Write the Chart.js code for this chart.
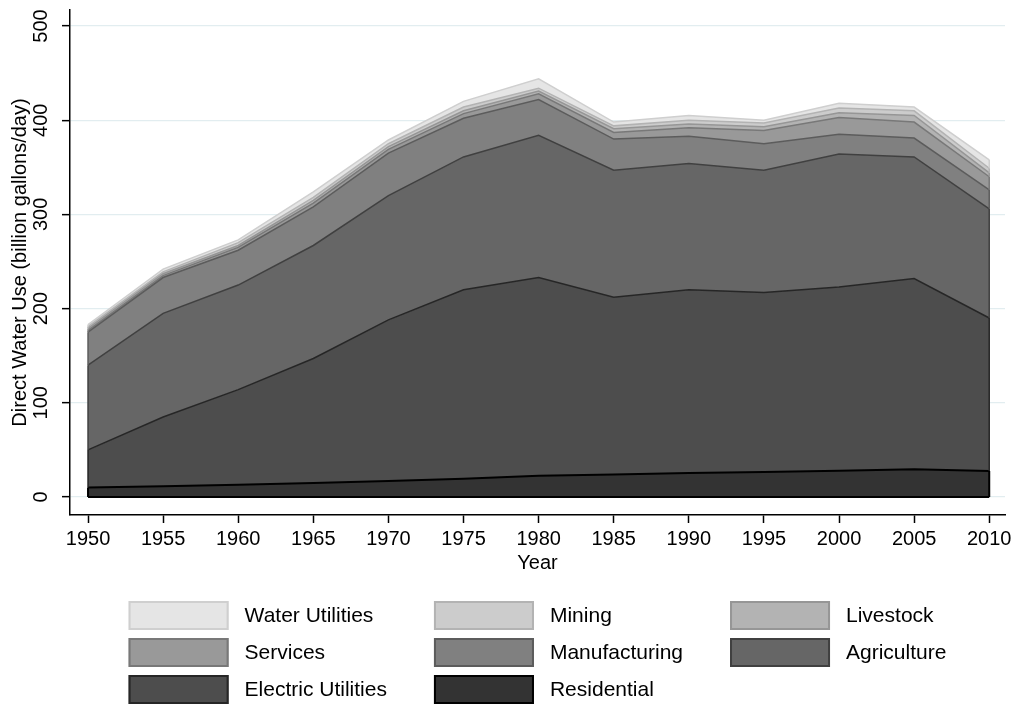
<!DOCTYPE html>
<html>
<head>
<meta charset="utf-8">
<title>Direct Water Use by Sector</title>
<script src="https://cdn.jsdelivr.net/npm/chart.js@4.4.0/dist/chart.umd.min.js"></script>
<style>
  html, body { margin: 0; padding: 0; background: #fff; }
  #wrap { width: 1018px; height: 707px; position: relative; }
</style>
</head>
<body>
<div id="wrap"><canvas id="waterChart"></canvas></div>
<script>
// Data (billion gallons/day), bottom layer first
const years = [1950, 1955, 1960, 1965, 1970, 1975, 1980, 1985, 1990, 1995, 2000, 2005, 2010];
const yTicks = [0, 100, 200, 300, 400, 500];

const residential = [10, 11.5, 13, 15, 17, 19.5, 22.5, 24, 25.5, 26.5, 28, 29.5, 27.5];
const electricUtilities = [40, 73.5, 101, 132, 171, 200.5, 210.5, 188, 194.5, 190.5, 195, 202.5, 162.5];
const agriculture = [90, 110, 111, 120, 132, 141, 151, 135, 134, 130, 141, 129, 116];
const manufacturing = [35, 38, 37, 41, 45, 41, 38, 33, 29, 28, 21, 20, 20];
const services = [2, 2, 3, 4, 4, 5, 6, 7, 9, 14, 18, 17, 14];
const livestock = [2, 2, 2, 3, 3, 3, 3, 4, 4, 4, 5, 7, 4];
const mining = [2, 2, 3, 3, 3, 4, 3, 3, 4, 4, 5, 5, 5];
const waterUtilities = [2, 3, 3, 6, 4, 6, 10, 4, 5, 3, 5, 4, 9];

const seriesNames = ['Residential', 'Electric Utilities', 'Agriculture', 'Manufacturing',
                     'Services', 'Livestock', 'Mining', 'Water Utilities'];
const seriesValues = [residential, electricUtilities, agriculture, manufacturing,
                      services, livestock, mining, waterUtilities];
const fillColors = ['#333333', '#4d4d4d', '#666666', '#808080', '#999999', '#b3b3b3', '#cccccc', '#e5e5e5'];
const lineColors = ['#000000', '#262626', '#404040', '#5c5c5c', '#787878', '#969696', '#b3b3b3', '#cfcfcf'];

const FONT = 'Arial, "Liberation Sans", Helvetica, sans-serif';

// y tick labels are drawn rotated, like the original
const rotatedYTicks = {
    id: 'rotatedYTicks',
    afterDraw(chart) {
        const ctx = chart.ctx;
        const y = chart.scales.y;
        ctx.save();
        ctx.fillStyle = '#000';
        ctx.font = '20px ' + FONT;
        ctx.textAlign = 'center';
        ctx.textBaseline = 'middle';
        yTicks.forEach(v => {
            ctx.save();
            ctx.translate(chart.chartArea.left - 29, y.getPixelForValue(v));
            ctx.rotate(-Math.PI / 2);
            ctx.fillText(String(v), 0, 0);
            ctx.restore();
        });
        ctx.restore();
    }
};

// closing edges of each area (left/right sides and the baseline)
const areaEdges = {
    id: 'areaEdges',
    afterDatasetsDraw(chart) {
        const ctx = chart.ctx;
        const base = chart.scales.y.getPixelForValue(0);
        ctx.save();
        for (let i = chart.data.datasets.length - 1; i >= 0; i--) {
            const pts = chart.getDatasetMeta(i).data;
            const prev = i > 0 ? chart.getDatasetMeta(i - 1).data : null;
            const last = pts.length - 1;
            ctx.strokeStyle = lineColors[i];
            ctx.lineWidth = i === 0 ? 2 : 1.5;
            ctx.beginPath();
            ctx.moveTo(pts[0].x, prev ? prev[0].y : base);
            ctx.lineTo(pts[0].x, pts[0].y);
            ctx.moveTo(pts[last].x, prev ? prev[last].y : base);
            ctx.lineTo(pts[last].x, pts[last].y);
            if (i === 0) {
                ctx.moveTo(pts[0].x, base);
                ctx.lineTo(pts[last].x, base);
            }
            ctx.stroke();
        }
        ctx.restore();
    }
};

// 3-column legend under the plot, top layer first
const gridLegend = {
    id: 'gridLegend',
    afterDraw(chart) {
        const ctx = chart.ctx;
        const items = chart.data.datasets.map((ds, i) => ({ label: ds.label, i: i })).reverse();
        const cols = 3, boxW = 100, boxH = 29, textGap = 16, colGap = 47, rowPitch = 37;
        ctx.save();
        ctx.font = '21px ' + FONT;
        const colW = [0, 0, 0];
        items.forEach((it, k) => {
            const w = boxW + textGap + ctx.measureText(it.label).width;
            colW[k % cols] = Math.max(colW[k % cols], w);
        });
        const total = colW[0] + colW[1] + colW[2] + colGap * (cols - 1);
        const area = chart.chartArea;
        const left = (area.left + area.right) / 2 - total / 2;
        const top = chart.scales.x.bottom + 16;
        items.forEach((it, k) => {
            const c = k % cols, r = Math.floor(k / cols);
            let x = left;
            for (let j = 0; j < c; j++) x += colW[j] + colGap;
            const y = top + r * rowPitch;
            ctx.fillStyle = fillColors[it.i];
            ctx.fillRect(x, y, boxW, boxH);
            ctx.strokeStyle = lineColors[it.i];
            ctx.lineWidth = 2;
            ctx.strokeRect(x + 1, y + 1, boxW - 2, boxH - 2);
            ctx.fillStyle = '#000';
            ctx.textAlign = 'left';
            ctx.textBaseline = 'middle';
            ctx.fillText(it.label, x + boxW + textGap, y + boxH / 2 + 1);
        });
        ctx.restore();
    }
};

const datasets = seriesNames.map((name, i) => ({
    label: name,
    data: years.map((yr, k) => ({ x: yr, y: seriesValues[i][k] })),
    backgroundColor: fillColors[i],
    borderColor: lineColors[i],
    borderWidth: i === 0 ? 2 : 1.5,
    fill: i === 0 ? 'origin' : '-1',
    pointRadius: 0,
    tension: 0
}));

new Chart(document.getElementById('waterChart').getContext('2d'), {
    type: 'line',
    data: { datasets: datasets },
    plugins: [areaEdges, rotatedYTicks, gridLegend],
    options: {
        responsive: true,
        maintainAspectRatio: false,
        animation: false,
        layout: { padding: { top: 10, right: 13, bottom: 122, left: 0 } },
        plugins: {
            legend: { display: false },
            tooltip: { enabled: false }
        },
        scales: {
            x: {
                type: 'linear',
                min: 1948.8,
                max: 2011.05,
                afterBuildTicks: axis => { axis.ticks = years.map(v => ({ value: v })); },
                afterFit: scale => { scale.height = 70; },
                grid: { drawOnChartArea: false, drawTicks: true, tickLength: 8, tickColor: '#000', tickWidth: 1.5 },
                border: { color: '#000', width: 1.5 },
                ticks: {
                    color: '#000',
                    font: { family: FONT, size: 20 },
                    padding: 4,
                    maxRotation: 0,
                    autoSkip: false,
                    callback: v => String(v)
                },
                title: {
                    display: true,
                    text: 'Year',
                    color: '#000',
                    font: { family: FONT, size: 20 },
                    padding: { top: 0, bottom: 10 }
                }
            },
            y: {
                stacked: true,
                min: -19.1,
                max: 517,
                afterBuildTicks: axis => { axis.ticks = yTicks.map(v => ({ value: v })); },
                afterFit: scale => { scale.width = 70; },
                grid: { color: '#e2edf0', lineWidth: 1.3, drawTicks: true, tickLength: 8, tickColor: '#000', tickWidth: 1.5 },
                border: { color: '#000', width: 1.5 },
                ticks: { display: false },
                title: {
                    display: true,
                    text: 'Direct Water Use (billion gallons/day)',
                    color: '#000',
                    font: { family: FONT, size: 20 },
                    padding: { top: 8, bottom: 0 }
                }
            }
        }
    }
});
</script>
</body>
</html>
